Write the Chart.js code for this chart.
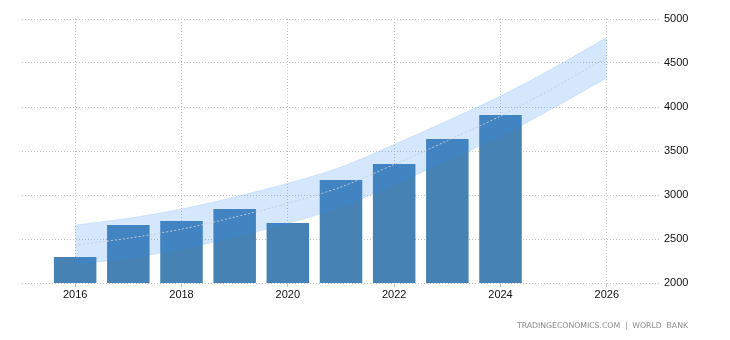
<!DOCTYPE html>
<html>
<head>
<meta charset="utf-8">
<script src="https://cdn.jsdelivr.net/npm/chart.js@4/dist/chart.umd.min.js"></script>
<style>
html,body{margin:0;padding:0;background:#fff;}
#wrap{position:relative;width:730px;height:340px;}
#src{position:absolute;left:517px;top:321px;font:7.8px "DejaVu Sans",Arial,sans-serif;color:#8a8a8a;letter-spacing:-0.05px;white-space:nowrap;}
</style>
</head>
<body>
<div id="wrap">
<canvas id="c" width="730" height="340"></canvas>
<div id="src">TRADINGECONOMICS.COM&nbsp; |&nbsp; WORLD&nbsp; BANK</div>
</div>
<script>
const years = [2016, 2017, 2018, 2019, 2020, 2021, 2022, 2023, 2024];
const values = [2295, 2659, 2705, 2841, 2682, 3170, 3352, 3636, 3909];
const forecastYears = [2016, 2017, 2018, 2019, 2020, 2021, 2022, 2023, 2024, 2025, 2026];
const forecastUpper = [2659, 2736, 2841, 2977, 3133, 3318, 3574, 3844, 4124, 4445, 4792];
const forecastMid = [2430, 2509, 2612, 2749, 2906, 3091, 3347, 3617, 3897, 4218, 4561];
const forecastLower = [2210, 2282, 2383, 2520, 2678, 2864, 3120, 3390, 3670, 3990, 4330];
const xTicks = [2016, 2018, 2020, 2022, 2024, 2026];
const yTicks = [2000, 2500, 3000, 3500, 4000, 4500, 5000];

const pts = (xs, ys) => xs.map((x, i) => ({x: x, y: ys[i]}));
const gridColor = 'rgba(195,195,195,1)';

new Chart(document.getElementById('c'), {
  data: {
    datasets: [
      {type: 'line', data: pts(forecastYears, forecastMid), borderColor: 'rgba(200,205,215,0.9)', borderWidth: 1, borderDash: [2, 2], pointRadius: 0, fill: false, tension: 0.3, order: 0},
      {type: 'line', data: pts(forecastYears, forecastUpper), borderColor: 'rgba(50,140,240,0.14)', borderWidth: 1, pointRadius: 0, fill: '+1', backgroundColor: 'rgba(50,140,240,0.21)', tension: 0.3, order: 1},
      {type: 'line', data: pts(forecastYears, forecastLower), borderColor: 'rgba(50,140,240,0.14)', borderWidth: 1, pointRadius: 0, fill: false, tension: 0.3, order: 1},
      {type: 'bar', data: pts(years, values), backgroundColor: '#4682b4', borderWidth: 0, categoryPercentage: 0.8, barPercentage: 1.0, order: 3}
    ]
  },
  options: {
    responsive: false,
    animation: false,
    events: [],
    layout: {padding: {left: 22, top: 19, right: 0, bottom: 0}},
    plugins: {legend: {display: false}, tooltip: {enabled: false}},
    scales: {
      x: {
        type: 'linear', min: 2015, max: 2027, position: 'bottom', offset: false,
        afterBuildTicks: (s) => { s.ticks = xTicks.map(v => ({value: v})); },
        afterFit: (s) => { s.height = 57; },
        grid: {offset: false, color: gridColor, lineWidth: 1, drawTicks: true, tickLength: 4, tickColor: gridColor},
        border: {display: false, dash: [1, 2]},
        ticks: {color: '#111', font: {family: '"Liberation Sans", Arial, sans-serif', size: 11}, padding: 1, maxRotation: 0, callback: (v) => String(v)}
      },
      y: {
        type: 'linear', min: 2000, max: 5000, position: 'right',
        afterBuildTicks: (s) => { s.ticks = yTicks.map(v => ({value: v})); },
        afterFit: (s) => { s.width = 70; },
        grid: {color: gridColor, lineWidth: 1, drawTicks: false},
        border: {display: false, dash: [1, 2]},
        ticks: {color: '#111', font: {family: '"Liberation Sans", Arial, sans-serif', size: 11}, padding: 4, crossAlign: 'near', callback: (v) => String(v)}
      }
    }
  }
});
</script>
</body>
</html>
